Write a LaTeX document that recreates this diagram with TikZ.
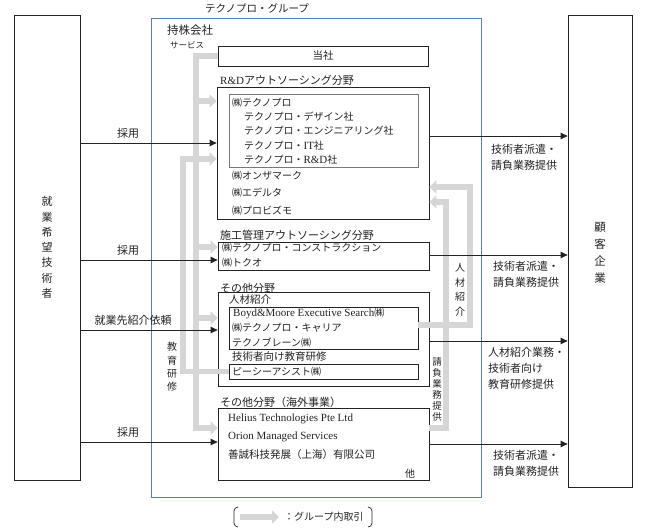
\documentclass[tikz,border=0pt]{standalone}
\usepackage{fontspec}
\setmainfont{Noto Sans CJK JP}
\newfontfamily\lat{Liberation Serif}
\usetikzlibrary{arrows.meta,fit}
\definecolor{flow}{RGB}{214,214,214}
\definecolor{grpblue}{RGB}{88,125,178}
\definecolor{ink}{RGB}{35,35,35}
\definecolor{inbox}{RGB}{120,120,120}
\newcommand{\fsz}[2]{\fontsize{#1}{#2}\selectfont}
\tikzset{
  box/.style={draw=ink, line width=0.8pt, fill=white, inner sep=0pt},
  grpbox/.style={draw=grpblue, line width=0.8pt, inner sep=0pt},
  inbox/.style={draw=inbox, line width=0.8pt, inner sep=0pt},
  txt/.style={inner sep=0pt, anchor=west, text=ink, font=\fsz{10}{12}},
  head/.style={txt, font=\fsz{11}{13}},
  lbl/.style={inner sep=0pt, text=ink, font=\fsz{11}{16}, align=center},
  flowline/.style={draw=flow, line width=5.5pt, line join=miter, line cap=butt},
  flowarrow/.style={flowline, -{Triangle[length=7pt,width=13pt]}},
  blk/.style={draw=ink, line width=0.8pt, -{Triangle[length=7pt,width=6.5pt]}}
}
\begin{document}
\begin{tikzpicture}[x=1pt,y=-1pt]
\useasboundingbox (0,0) rectangle (647,532);
\fill[white] (0,0) rectangle (647,532);

% group frame
\node[grpbox, fit={(151,18)(481,497)}] (grp) {};
\node[inner sep=0pt, text=ink, font=\fsz{10.5}{12}] (title) at (257,8) {テクノプロ・グループ};
\node[txt, font=\fsz{11.5}{13}] (hold) at (167,30) {持株会社};
\node[txt, font=\fsz{8.5}{10}] (svc) at (170,45) {サービス};

% outer boxes
\node[box, fit={(14,15)(80,480)}] (tech) {};
\node[lbl, font=\fsz{11}{15.3}] at (tech.center) {就\\業\\希\\望\\技\\術\\者};
\node[box, fit={(568,15)(632,487)}] (cust) {};
\node[lbl, font=\fsz{11.5}{17}] at (600,253) {顧\\客\\企\\業};

% company boxes
\node[box, fit={(218,46)(428,66)}] (hq) {};
\node[inner sep=0pt, text=ink, font=\fsz{10.5}{12}] at (hq.center) {当社};

\node[head] (rdh) at (220,80) {{\lat R\&D}アウトソーシング分野};
\node[box, fit={(217,87)(429,219)}] (rd) {};
\node[inbox, fit={(229,94)(418,167)}] (rdin) {};
\node[txt] (t1) at (232,103) {㈱テクノプロ};
\node[txt] (t2) at (244,117) {テクノプロ・デザイン社};
\node[txt] (t3) at (244,131) {テクノプロ・エンジニアリング社};
\node[txt] (t4) at (244,146) {テクノプロ・{\lat\fsz{11}{12}IT}社};
\node[txt] (t5) at (244,160) {テクノプロ・{\lat\fsz{11}{12}R\&D}社};
\node[txt] (t6) at (232,176) {㈱オンザマーク};
\node[txt] (t7) at (232,193) {㈱エデルタ};
\node[txt] (t8) at (232,211) {㈱プロビズモ};

\node[head] (conh) at (220,235) {施工管理アウトソーシング分野};
\node[box, fit={(218,242)(429,270)}] (con) {};
\node[txt] (c1) at (222,248) {㈱テクノプロ・コンストラクション};
\node[txt] (c2) at (222,263) {㈱トクオ};

\node[head] (othh) at (220,288) {その他分野};
\node[box, fit={(218,292)(429,386)}] (oth) {};
\node[txt, font=\fsz{10.5}{12}] (hrh) at (229,300) {人材紹介};
\node[box, fit={(229,307)(418,349)}] (hr) {};
\node[txt] (h1) at (233,314) {{\lat\fsz{11}{12}Boyd\&Moore Executive Search}㈱};
\node[txt] (h2) at (232,328) {㈱テクノプロ・キャリア};
\node[txt] (h3) at (232,343) {テクノブレーン㈱};
\node[txt, font=\fsz{10.5}{12}] (edh) at (232,357) {技術者向け教育研修};
\node[box, fit={(229,364)(418,379)}] (pc) {};
\node[txt] (p1) at (232,372) {ピーシーアシスト㈱};

\node[head] (ovsh) at (220,402) {その他分野（海外事業）};
\node[box, fit={(218,408)(429,480)}] (ovs) {};
\node[txt, font=\lat\fsz{11}{12}] (o1) at (228,419) {Helius Technologies Pte Ltd};
\node[txt, font=\lat\fsz{11}{12}] (o2) at (228,437) {Orion Managed Services};
\node[txt, font=\fsz{10.5}{12}] (o3) at (228,455) {善誠科技発展（上海）有限公司};
\node[txt, anchor=center] (o4) at (410,474) {他};

% gray intra-group flows (left)
\coordinate (svbot) at (196,428);
\coordinate (sv1) at (196,101);
\coordinate (sv2) at (196,247);
\coordinate (sv3) at (196,318);
\coordinate (edtop) at (183,159);
\draw[flowarrow] (hq.west) -| (svbot) -- (ovs.west |- svbot);
\draw[flowarrow] (sv1) -- (rd.west |- sv1);
\draw[flowarrow] (sv2) -- (con.west |- sv2);
\draw[flowarrow] (sv3) -- (oth.west |- sv3);
\draw[flowarrow] (pc.west) -| (edtop) -- (rd.west |- edtop);
\node[lbl, font=\fsz{10}{13.3}] (edl) at (172,367) {教\\育\\研\\修};

% gray intra-group flows (right)
\coordinate (hry) at (0,325);
\coordinate (jtop) at (470,187);
\coordinate (uy) at (0,428);
\coordinate (utop) at (446,202);
\draw[flowarrow] (hr.east |- hry) -| (jtop) -- (rd.east |- jtop);
\draw[flowarrow] (ovs.east |- uy) -| (utop) -- (rd.east |- utop);
\node[lbl, font=\fsz{10}{14.7}] (jl) at (460,290) {人\\材\\紹\\介};
\node[lbl, font=\fsz{9.5}{11}] (ul) at (437,389.5) {請\\負\\業\\務\\提\\供};

% black arrows from applicants
\coordinate (a1) at (0,143);
\coordinate (a2) at (0,260);
\coordinate (a3) at (0,330);
\coordinate (a4) at (0,442);
\draw[blk] (tech.east |- a1) -- (rd.west |- a1);
\draw[blk] (tech.east |- a2) -- (con.west |- a2);
\draw[blk] (tech.east |- a3) -- (oth.west |- a3);
\draw[blk] (tech.east |- a4) -- (ovs.west |- a4);
\node[lbl] (l1) at (128,133) {採用};
\node[lbl] (l2) at (128,250) {採用};
\node[lbl] (l3) at (133,320) {就業先紹介依頼};
\node[lbl] (l4) at (128,432) {採用};

% black arrows to customers
\coordinate (b1) at (0,136);
\coordinate (b2) at (0,255);
\coordinate (b3) at (0,341);
\coordinate (b4) at (0,444);
\draw[blk] (rd.east |- b1) -- (cust.west |- b1);
\draw[blk] (con.east |- b2) -- (cust.west |- b2);
\draw[blk] (oth.east |- b3) -- (cust.west |- b3);
\draw[blk] (ovs.east |- b4) -- (cust.west |- b4);
\node[lbl] (r1) at (524,157) {技術者派遣・\\請負業務提供};
\node[lbl] (r2) at (526,274) {技術者派遣・\\請負業務提供};
\node[lbl, align=left, anchor=north west] (r3) at (488,347) {人材紹介業務・\\技術者向け\\教育研修提供};
\node[lbl] (r4) at (526,463) {技術者派遣・\\請負業務提供};

% legend
\coordinate (lga) at (240,517);
\coordinate (lgb) at (279,517);
\draw[flowarrow] (lga) -- (lgb);
\node[txt, font=\fsz{10}{12}] (lgt) at (284,517) {：グループ内取引};
\draw[ink, line width=0.7pt] (238,507) to[out=180,in=90] (234,511) -- (234,523) to[out=-90,in=180] (238,527);
\draw[ink, line width=0.7pt] (368,507) to[out=0,in=90] (372,511) -- (372,523) to[out=-90,in=0] (368,527);
\end{tikzpicture}
\end{document}
